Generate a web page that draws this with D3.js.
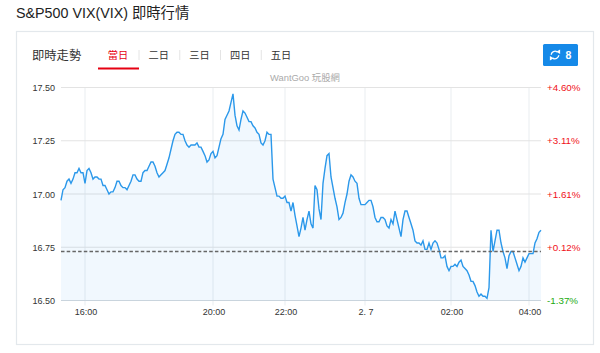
<!DOCTYPE html>
<html>
<head>
<meta charset="utf-8">
<title>S&amp;P500 VIX(VIX)</title>
<script src="https://cdnjs.cloudflare.com/ajax/libs/d3/7.8.5/d3.min.js"></script>
<style>
    html, body { margin: 0; padding: 0; background: #fff; }
    svg { display: block; }
    text { font-family: "Liberation Sans", "Noto Sans CJK TC", sans-serif; }
</style>
</head>
<body>
<div id="chart"></div>
<script>
// one quote per slot, the axis is ordinal so market breaks take no room
const quotes = [
    16.97,17.02,17.03,17.06,17.07,17.05,17.07,17.10,17.10,17.12,17.10,17.10,17.05,17.11,17.12,17.10,17.07,17.08,17.08,17.07,
    17.07,17.04,17.04,17.02,17.00,17.01,17.01,17.03,17.06,17.06,17.04,17.03,17.03,17.02,17.04,17.06,17.09,17.09,17.07,17.06,
    17.06,17.10,17.11,17.11,17.13,17.15,17.15,17.13,17.10,17.08,17.09,17.10,17.11,17.14,17.17,17.21,17.25,17.28,17.29,17.29,
    17.28,17.28,17.25,17.23,17.22,17.23,17.23,17.23,17.24,17.22,17.22,17.20,17.18,17.15,17.16,17.19,17.20,17.17,17.18,17.22,
    17.26,17.28,17.35,17.37,17.39,17.43,17.47,17.37,17.32,17.30,17.35,17.39,17.38,17.36,17.34,17.34,17.32,17.31,17.29,17.28,
    17.24,17.23,17.25,17.29,17.28,17.28,17.07,17.03,16.99,16.99,16.98,16.98,16.99,16.96,16.96,
    16.92,16.96,16.90,16.85,16.80,16.84,16.89,16.83,16.88,16.92,16.86,16.84,17.04,17.02,16.93,16.88,17.05,17.12,17.18,17.19,
    17.08,17.03,16.98,16.94,16.88,16.89,16.91,16.96,17.00,17.06,17.09,17.08,17.06,17.05,16.98,16.95,16.95,16.95,16.96,16.97,
    16.97,16.94,16.89,16.87,16.87,16.89,16.89,16.88,16.85,16.84,
    16.88,16.86,16.92,16.88,16.84,16.80,16.88,16.92,16.92,16.89,16.86,16.83,16.78,16.77,16.77,16.76,16.78,16.74,16.74,16.77,
    16.74,16.77,16.78,16.77,16.74,16.70,16.70,16.71,16.66,16.64,16.66,16.66,16.67,16.66,16.68,16.69,16.66,16.65,16.64,16.62,
    16.59,16.59,16.57,16.54,16.52,16.53,16.52,16.52,16.51,16.56,16.83,16.73,16.78,16.83,16.83,16.77,16.73,16.70,16.65,16.71,
    16.73,16.73,16.70,16.67,16.64,16.66,16.70,16.68,16.70,16.72,16.72,16.72,16.77,16.79,16.82,16.83
];
const prevClose = 16.73;
const priceTicks = [16.50, 16.75, 17.00, 17.25, 17.50];
const percentLabels = ["-1.37%", "+0.12%", "+1.61%", "+3.11%", "+4.60%"];
const timeSlots = [12, 76, 112, 152, 195, 234];
const timeLabels = ["16:00", "20:00", "22:00", "2. 7", "02:00", "04:00"];
const tabs = ["當日", "二日", "三日", "四日", "五日"];

const width = 600, height = 353;
const plotLeft = 61, plotRight = 541, plotTop = 87.5, plotBottom = 300.5;

const svg = d3.select("#chart").append("svg")
    .attr("width", width)
    .attr("height", height);

const x = d3.scaleLinear().domain([0, quotes.length - 1]).range([plotLeft, plotRight]);
const y = d3.scaleLinear().domain([16.50, 17.50]).range([plotBottom, plotTop]);

// title and card
svg.append("text").attr("x", 16).attr("y", 18)
    .attr("font-size", 14.3).attr("fill", "#222")
    .text("S&P500 VIX(VIX) 即時行情");

svg.append("rect")
    .attr("x", 16.5).attr("y", 31.5).attr("width", 577).attr("height", 313)
    .attr("fill", "#fff").attr("stroke", "#e3e8ec").attr("stroke-width", 1.2);

svg.append("text").attr("x", 32).attr("y", 60)
    .attr("font-size", 12.3).attr("fill", "#333").text("即時走勢");

// tabs
const tabX = d3.scalePoint().domain(tabs).range([118, 281]);
svg.selectAll(".tab").data(tabs).join("text")
    .attr("class", "tab")
    .attr("x", d => tabX(d)).attr("y", 58.5)
    .attr("text-anchor", "middle").attr("font-size", 10.2)
    .attr("fill", (d, i) => i === 0 ? "#e60012" : "#333")
    .text(d => d);
svg.selectAll(".tab-sep").data(tabs.slice(0, 4)).join("line")
    .attr("class", "tab-sep")
    .attr("x1", d => tabX(d) + 21).attr("x2", d => tabX(d) + 21)
    .attr("y1", 50).attr("y2", 60)
    .attr("stroke", "#e4e4e4");
svg.append("rect").attr("x", 98).attr("y", 67.5).attr("width", 41).attr("height", 2).attr("fill", "#e60012");

// refresh button
const btn = svg.append("g");
btn.append("rect").attr("x", 543).attr("y", 44).attr("width", 35).attr("height", 22).attr("rx", 1.5).attr("fill", "#1589e8");
const arc = d3.arc().innerRadius(3.1).outerRadius(4.5);
btn.append("path").attr("transform", "translate(555,55)").attr("fill", "#fff")
    .attr("d", arc({ startAngle: -1.5, endAngle: 0.6 }));
btn.append("path").attr("transform", "translate(555,55)").attr("fill", "#fff")
    .attr("d", arc({ startAngle: 1.65, endAngle: 3.75 }));
const arrowHead = d3.symbol().type(d3.symbolTriangle).size(9);
btn.append("path").attr("transform", "translate(558.8,51.8) rotate(150)").attr("fill", "#fff").attr("d", arrowHead());
btn.append("path").attr("transform", "translate(551.2,58.2) rotate(-30)").attr("fill", "#fff").attr("d", arrowHead());
btn.append("text").attr("x", 568.5).attr("y", 59)
    .attr("text-anchor", "middle").attr("font-size", 10.5).attr("font-weight", "bold").attr("fill", "#fff").text("8");

// watermark
svg.append("text").attr("x", 305).attr("y", 81)
    .attr("text-anchor", "middle").attr("font-size", 9.4).attr("fill", "#aaa").text("WantGoo 玩股網");

// grid
svg.append("g").selectAll("line").data(timeSlots).join("line")
    .attr("x1", d => x(d)).attr("x2", d => x(d))
    .attr("y1", plotTop).attr("y2", plotBottom + 5)
    .attr("stroke", "#e9edf0");
svg.append("g").selectAll("line").data(priceTicks).join("line")
    .attr("x1", plotLeft).attr("x2", plotRight)
    .attr("y1", d => y(d)).attr("y2", d => y(d))
    .attr("stroke", d => d === 16.50 ? "#cfd6dc" : "#e3e3e3");

// series
const area = d3.area().x((d, i) => x(i)).y0(plotBottom).y1(d => y(d));
const line = d3.line().x((d, i) => x(i)).y(d => y(d));
svg.append("path").datum(quotes).attr("d", area).attr("fill", "#2b9aec").attr("fill-opacity", 0.065);
svg.append("path").datum(quotes).attr("d", line)
    .attr("fill", "none").attr("stroke", "#2b98ea").attr("stroke-width", 1.4);

// previous close
svg.append("line")
    .attr("x1", plotLeft).attr("x2", plotRight)
    .attr("y1", y(prevClose)).attr("y2", y(prevClose))
    .attr("stroke", "#666").attr("stroke-width", 1.5).attr("stroke-dasharray", "3.5,2.2");

// axes
svg.append("g").selectAll("text").data(priceTicks).join("text")
    .attr("x", 55).attr("y", d => y(d) + 3.5)
    .attr("text-anchor", "end").attr("font-size", 9).attr("fill", "#333")
    .text(d => d.toFixed(2));

svg.append("g").selectAll("text").data(priceTicks).join("text")
    .attr("x", 547).attr("y", d => y(d) + 3.5)
    .attr("font-size", 9.8)
    .attr("fill", (d, i) => i === 0 ? "#22aa11" : "#f01020")
    .text((d, i) => percentLabels[i]);

svg.append("g").selectAll("text").data(timeSlots).join("text")
    .attr("x", d => x(d) + 1).attr("y", 315)
    .attr("text-anchor", "middle").attr("font-size", 9).attr("fill", "#333")
    .text((d, i) => timeLabels[i]);
</script>
</body>
</html>
